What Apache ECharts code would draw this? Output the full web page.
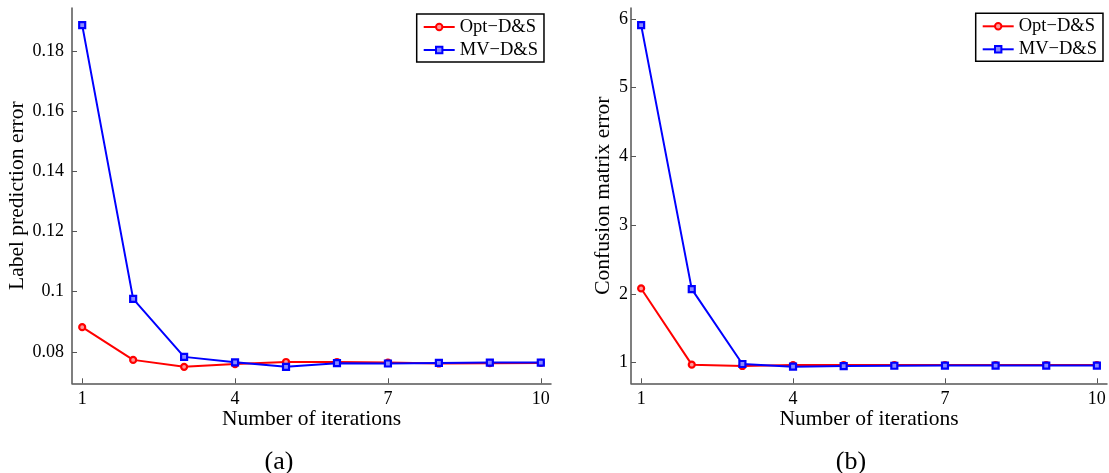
<!DOCTYPE html>
<html><head><meta charset="utf-8">
<script src="https://cdn.jsdelivr.net/npm/echarts@6/dist/echarts.min.js"></script>
<style>html,body{margin:0;padding:0;background:#fff}#c{width:1109px;height:473px}</style>
</head><body><div id="c"></div>
<script>
const iterations = [1, 2, 3, 4, 5, 6, 7, 8, 9, 10];
const xTicks = [1, 4, 7, 10];
const labelErrOpt = [0.0882, 0.0773, 0.0750, 0.0759, 0.0766, 0.0766, 0.0764, 0.0761, 0.0762, 0.0763];
const labelErrMV  = [0.1888, 0.0976, 0.0783, 0.0765, 0.0750, 0.0762, 0.0761, 0.0763, 0.0764, 0.0764];
const confErrOpt  = [2.08, 0.971, 0.952, 0.965, 0.966, 0.966, 0.966, 0.966, 0.966, 0.966];
const confErrMV   = [5.91, 2.07, 0.981, 0.942, 0.950, 0.955, 0.958, 0.958, 0.958, 0.958];
const labelTicks = [0.08, 0.1, 0.12, 0.14, 0.16, 0.18];
const confTicks = [1, 2, 3, 4, 5, 6];
const seriesNames = ['Opt\u2212D&S', 'MV\u2212D&S'];
const yNames = ['Label prediction error', 'Confusion matrix error'];
const xName = 'Number of iterations';
const panelLabels = ['(a)', '(b)'];

const FONT = 'Liberation Serif';
const RED = '#ff0000', BLUE = '#0000ff';
const AXIS_COLOR = '#555555';

function pairs(vals) { return iterations.map((x, i) => [x, vals[i]]); }

function xAxis(gi) {
  return {
    type: 'value', gridIndex: gi, min: 0.8, max: 10.2,
    name: xName, nameLocation: 'middle', nameGap: 25, nameMoveOverlap: false,
    nameTextStyle: { fontFamily: FONT, fontSize: 21.5, color: '#000' },
    axisLine: { show: true, onZero: false, lineStyle: { color: AXIS_COLOR, width: 1.5 } },
    axisTick: { show: true, inside: true, length: 5, customValues: xTicks, lineStyle: { color: AXIS_COLOR, width: 1 } },
    axisLabel: { customValues: xTicks, margin: 7, fontFamily: FONT, fontSize: 18, color: '#000' },
    splitLine: { show: false }
  };
}
function yAxis(gi, min, max, ticks, gap, lblMargin) {
  return {
    type: 'value', gridIndex: gi, min: min, max: max,
    name: yNames[gi], nameLocation: 'middle', nameGap: gap,
    nameTextStyle: { fontFamily: FONT, fontSize: 21.5, color: '#000' },
    axisLine: { show: true, onZero: false, lineStyle: { color: AXIS_COLOR, width: 1.5 } },
    axisTick: { show: true, inside: true, length: 5, customValues: ticks, lineStyle: { color: AXIS_COLOR, width: 1 } },
    axisLabel: { customValues: ticks, margin: lblMargin, fontFamily: FONT, fontSize: 18, color: '#000' },
    splitLine: { show: false }
  };
}
function line(name, gi, vals, color, fill, symbol) {
  return {
    type: 'line', name: name, xAxisIndex: gi, yAxisIndex: gi,
    data: pairs(vals), symbol: symbol, symbolSize: 6,
    lineStyle: { color: color, width: 2 },
    itemStyle: { color: fill, borderColor: color, borderWidth: 2.2 },
    emphasis: { disabled: true }, animation: false
  };
}
function legend(left, top) {
  return {
    left: left, top: top, orient: 'vertical', data: seriesNames,
    backgroundColor: '#fff', borderColor: '#000', borderWidth: 1.5, borderRadius: 0,
    padding: [3, 6, 2, 6], itemGap: 3, itemWidth: 31, itemHeight: 8,
    textStyle: { fontFamily: FONT, fontSize: 18.5, color: '#000', lineHeight: 20 }
  };
}

const chart = echarts.init(document.getElementById('c'), null, { renderer: 'canvas' });
chart.setOption({
  animation: false,
  backgroundColor: '#ffffff',
  grid: [
    { left: 72, top: 8, width: 479, height: 375.3 },
    { left: 631, top: 8, width: 476, height: 375.3 }
  ],
  xAxis: [xAxis(0), xAxis(1)],
  yAxis: [
    yAxis(0, 0.0695, 0.1945, labelTicks, 43, 8),
    yAxis(1, 0.70, 6.16, confTicks, 17, 3)
  ],
  legend: [legend(416.7, 14), legend(975.7, 13.3)],
  series: [
    line(seriesNames[0], 0, labelErrOpt, RED, '#ff9a9a', 'circle'),
    line(seriesNames[1], 0, labelErrMV, BLUE, '#8a8aff', 'rect'),
    line(seriesNames[0], 1, confErrOpt, RED, '#ff9a9a', 'circle'),
    line(seriesNames[1], 1, confErrMV, BLUE, '#8a8aff', 'rect')
  ],
  graphic: [
    { type: 'text', x: 279, y: 462, style: { text: panelLabels[0], textAlign: 'center', textVerticalAlign: 'middle', font: '26px "Liberation Serif"', fill: '#000' } },
    { type: 'text', x: 851, y: 462, style: { text: panelLabels[1], textAlign: 'center', textVerticalAlign: 'middle', font: '26px "Liberation Serif"', fill: '#000' } }
  ]
});
</script>
</body></html>
